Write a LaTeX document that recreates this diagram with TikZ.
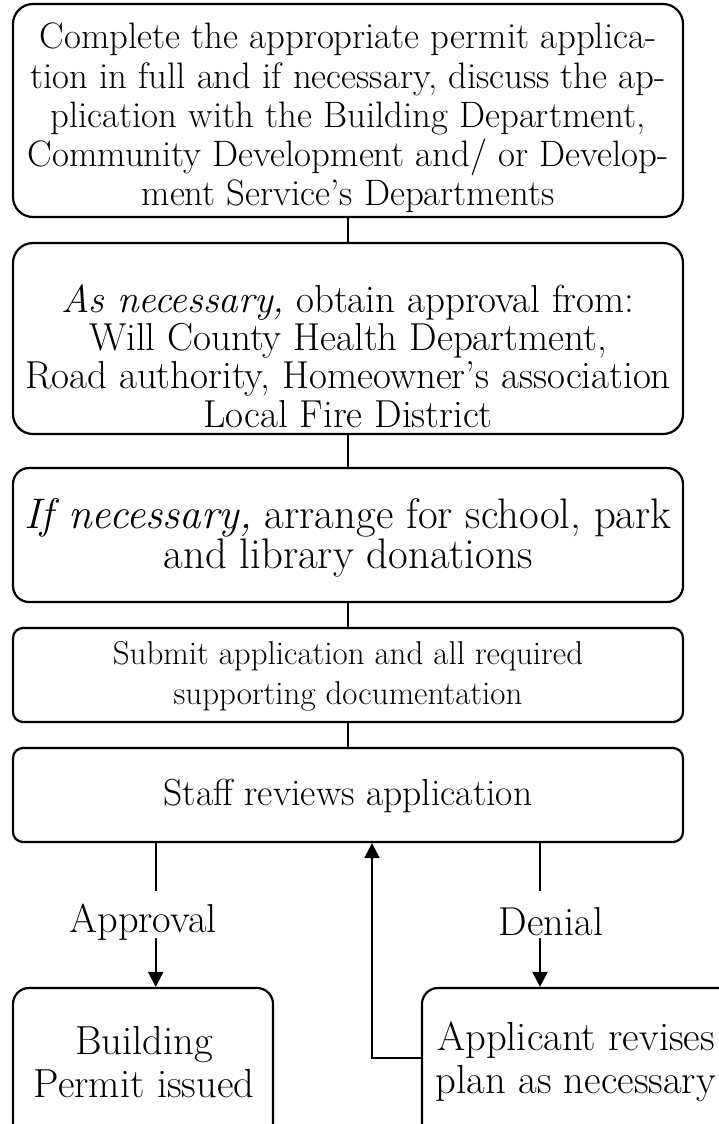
\documentclass[tikz,border=0pt]{standalone}
\usetikzlibrary{arrows.meta}
\begin{document}
\begin{tikzpicture}[x=0.5pt,y=-0.5pt,
  box/.style={draw,line width=1.1pt,minimum width=335pt,inner sep=0pt},
  txt/.style={align=center,inner sep=0pt},
  ln/.style={line width=1.1pt},
  arr/.style={line width=1.1pt,-{Triangle[width=7.5pt,length=7.5pt]}},
  font=\fontsize{15.5pt}{19.5pt}\selectfont]
\useasboundingbox (0,0) rectangle (718,1124);
% boxes
\node[box,rounded corners=10pt,minimum height=106.5pt] (b1) at (348,110.5) {};
\node[box,rounded corners=10pt,minimum height=95.5pt] (b2) at (348,338.5) {};
\node[box,rounded corners=8pt,minimum height=67pt] (b3) at (348,535) {};
\node[box,rounded corners=5pt,minimum height=47pt] (b4) at (348,675) {};
\node[box,rounded corners=5pt,minimum height=47pt] (b5) at (348,795) {};
\node[box,rounded corners=8pt,minimum width=130pt,minimum height=81pt] (bl) at (143,1069) {};
\node[box,rounded corners=8pt,minimum width=159pt,minimum height=81pt] (br) at (581,1069) {};
% texts
\node[txt,font=\fontsize{18.4pt}{19.6pt}\selectfont] (t1) at (348,118) {Complete the appropriate permit applica-\\tion in full and if necessary, discuss the ap-\\plication with the Building Department,\\Community Development and/ or Develop-\\ment Service's Departments};
\node[txt,font=\fontsize{19.5pt}{19.2pt}\selectfont] (t2) at (348,356) {\textit{As necessary,} obtain approval from:\\Will County Health Department,\\Road authority, Homeowner's association\\Local Fire District};
\node[txt,font=\fontsize{21.4pt}{20pt}\selectfont] (t3) at (348,538) {\textit{If necessary,} arrange for school, park\\and library donations};
\node[txt,font=\fontsize{16.5pt}{20pt}\selectfont] (t4) at (348,676) {Submit application and all required\\supporting documentation};
\node[txt,font=\fontsize{18.8pt}{20pt}\selectfont] (t5) at (348,796) {Staff reviews application};
\node[txt,font=\fontsize{20.2pt}{20pt}\selectfont] (ap) at (143,922) {Approval};
\node[txt,font=\fontsize{20.2pt}{20pt}\selectfont] (de) at (551,922) {Denial};
\node[txt,font=\fontsize{20.3pt}{21.5pt}\selectfont] (t6) at (144,1062) {Building\\Permit issued};
\node[txt,font=\fontsize{20.3pt}{21.5pt}\selectfont] (t7) at (576,1062) {Applicant revises\\plan as necessary};
% connectors
\draw[ln] (b1) -- (b2);
\draw[ln] (b2) -- (b3);
\draw[ln] (b3) -- (b4);
\draw[ln] (b4) -- (b5);
\coordinate (a1) at (155.7,891);
\coordinate (a2) at (155.7,938);
\coordinate (d1) at (540,891);
\coordinate (d2) at (540,938);
\coordinate (fb) at (372,1058);
\draw[ln] (b5.south -| a1) -- (a1);
\draw[arr] (a2) -- (bl.north -| a2);
\draw[ln] (b5.south -| d1) -- (d1);
\draw[arr] (d2) -- (br.north -| d2);
\draw[arr] (br.west |- fb) -- (fb) -- (fb |- b5.south);
\end{tikzpicture}
\end{document}
